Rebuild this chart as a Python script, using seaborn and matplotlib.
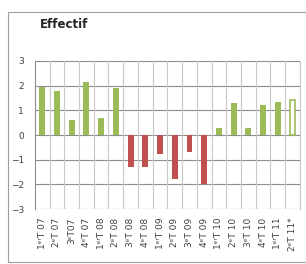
import matplotlib
matplotlib.use("Agg")
import matplotlib.pyplot as plt
import seaborn as sns
import pandas as pd
from matplotlib.patches import Rectangle

# quarter labels and values
quarters = ["1ᵉʳT 07", "2ᵉT 07", "3ᵉT07", "4ᵉT 07", "1ᵉʳT 08", "2ᵉT 08",
            "3ᵉT 08", "4ᵉT 08", "1ᵉʳT 09", "2ᵉT 09", "3ᵉT 09", "4ᵉT 09",
            "1ᵉʳT 10", "2ᵉT 10", "3ᵉT 10", "4ᵉT 10", "1ᵉʳT 11", "2ᵉT 11*"]
effectif = [1.95, 1.8, 0.6, 2.15, 0.7, 1.9,
            -1.3, -1.3, -0.75, -1.8, -0.7, -2.0,
            0.3, 1.3, 0.3, 1.2, 1.35, 1.4]

green = "#9BBB59"
red = "#C0504D"

df = pd.DataFrame({"trimestre": quarters, "effectif": effectif})

sns.set_style("white")
fig = plt.figure(figsize=(3.06, 2.64), dpi=100)
ax = fig.add_axes([0.114, 0.208, 0.866, 0.561])

# horizontal grid at each unit, vertical separators between quarters
for y in range(-3, 4):
    ax.axhline(y, color="#8c8c8c", linewidth=0.8, zorder=1)
for i in range(len(quarters)):
    ax.axvline(i + 0.5, color="#c8c8c8", linewidth=0.8, zorder=1)

sns.barplot(data=df, x="trimestre", y="effectif", color=green,
            width=0.4, ax=ax, zorder=3)

for bar, v in zip(ax.patches, effectif):
    bar.set_facecolor(green if v >= 0 else red)
    bar.set_edgecolor("none")

# last quarter is an estimate: hollow bar
last = ax.patches[len(quarters) - 1]
last.set_facecolor("white")
last.set_edgecolor(green)
last.set_linewidth(1.2)

ax.set_ylim(-3, 3)
ax.set_yticks([-3, -2, -1, 0, 1, 2, 3])
ax.set_xlim(-0.5, len(quarters) - 0.5)
ax.set_xticks(range(len(quarters)))
ax.set_xticklabels(quarters, rotation=90, fontsize=6.5, color="#404040")
ax.tick_params(axis="y", labelsize=6.5, colors="#404040", length=0, pad=8)
ax.tick_params(axis="x", length=0, pad=6)

ax.set_xlabel("")
ax.set_ylabel("")
for s in ["top", "bottom"]:
    ax.spines[s].set_visible(False)
ax.spines["left"].set_color("#8c8c8c")
ax.spines["right"].set_color("#c8c8c8")

fig.text(0.13, 0.895, "Effectif", fontsize=8.5, fontweight="bold", color="#222222")
fig.patches.append(Rectangle((0.026, 0.008), 0.98, 0.947, transform=fig.transFigure,
                             fill=False, edgecolor="#a0a0a0", linewidth=0.8))

fig.savefig("out.png", dpi=100)
